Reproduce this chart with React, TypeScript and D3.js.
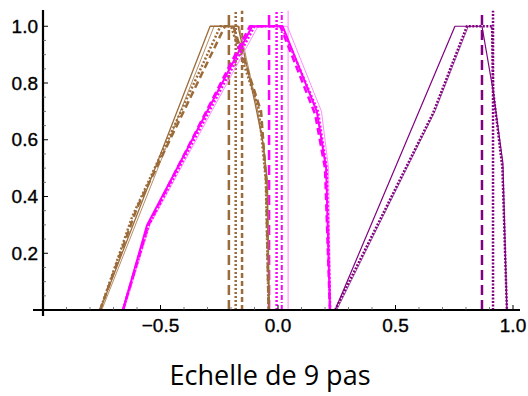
import React from "react";
import * as d3 from "d3";

// ---------- data ----------
type Pt = [number, number];

// Brown group (membership functions)
const brownSolidDark: Pt[] = [[-0.757, 0], [-0.289, 1], [-0.17, 1], [-0.098, 0.73], [-0.064, 0.59], [-0.047, 0.46], [-0.038, 0]];
const brownSolidLight: Pt[] = [[-0.75, 0], [-0.272, 1], [-0.165, 1], [-0.09, 0.72], [-0.06, 0.57], [-0.044, 0.45], [-0.036, 0]];
const brownDashed: Pt[] = [[-0.757, 0], [-0.6, 0.36], [-0.226, 1], [-0.19, 1], [-0.072, 0.70], [-0.05, 0.45], [-0.04, 0]];
const brownDotted: Pt[] = [[-0.757, 0], [-0.62, 0.33], [-0.245, 1], [-0.2, 1], [-0.082, 0.71], [-0.052, 0.46], [-0.04, 0]];
const brownVerticals: number[] = [-0.209, -0.18, -0.153];

// Magenta group
const magentaSolid: Pt[] = [[-0.66, 0], [-0.557, 0.3], [-0.11, 1], [0.02, 1], [0.165, 0.7], [0.205, 0.5], [0.221, 0]];
const magentaLight: Pt[] = [[-0.655, 0], [-0.545, 0.3], [-0.085, 1], [0.04, 1], [0.185, 0.7], [0.215, 0.5], [0.224, 0]];
const magentaDashed: Pt[] = [[-0.66, 0], [-0.552, 0.3], [-0.12, 1], [0.01, 1], [0.158, 0.69], [0.2, 0.5], [0.221, 0]];
const magentaDotted: Pt[] = [[-0.66, 0], [-0.55, 0.3], [-0.1, 1], [0.015, 1], [0.17, 0.7], [0.207, 0.5], [0.222, 0]];
const magentaVerticals: number[] = [-0.038, -0.006, 0.016, 0.043];

// Purple group
const purpleSolid: Pt[] = [[0.243, 0], [0.753, 1], [0.868, 1], [0.915, 0.775], [0.957, 0.518], [0.974, 0]];
const purpleLight: Pt[] = [[0.25, 0], [0.668, 0.7], [0.81, 1]];
const purpleDotted: Pt[] = [[0.243, 0], [0.66, 0.694], [0.804, 1], [0.911, 1], [0.915, 0.775], [0.955, 0.5], [0.974, 0]];
const purpleVerticals: number[] = [0.868, 0.915];

const xMajorTicks: number[] = [-0.5, 0, 0.5, 1.0];
const yMajorTicks: number[] = [0.2, 0.4, 0.6, 0.8, 1.0];
const title = "Echelle de 9 pas";

// ---------- styles ----------
const BROWN = "#9c6b3a";
const BROWN_L = "#b58e64";
const MAG = "#ff00ff";
const MAG_L = "#ff8cff";
const PUR = "#800080";
const PUR_L = "#a856a8";

export default function App() {
  const W = 528, H = 396;
  const x = d3.scaleLinear().domain([-1, 1]).range([43, 513]);
  const y = d3.scaleLinear().domain([0, 1]).range([310, 26.25]);
  const line = d3.line<Pt>().x(d => x(d[0])).y(d => y(d[1]));
  const fmt = d3.format(".1f");

  const xMinor = d3.range(-10, 11).map(i => i / 10).filter(v => !xMajorTicks.some(m => Math.abs(m - v) < 1e-9) && v > -1);
  const yMinor = d3.range(1, 21).map(i => i / 20).filter(v => !yMajorTicks.some(m => Math.abs(m - v) < 1e-9));

  const series: { d: Pt[]; stroke: string; w: number; dash?: string }[] = [
    { d: brownSolidLight, stroke: BROWN_L, w: 1 },
    { d: brownSolidDark, stroke: BROWN, w: 1.3 },
    { d: brownDotted, stroke: BROWN, w: 2.5, dash: "2,2" },
    { d: brownDashed, stroke: BROWN, w: 2.5, dash: "7,4" },
    { d: magentaLight, stroke: MAG_L, w: 1 },
    { d: magentaSolid, stroke: MAG, w: 2 },
    { d: magentaDotted, stroke: MAG, w: 2.5, dash: "2,2" },
    { d: magentaDashed, stroke: MAG, w: 2.5, dash: "7,4" },
    { d: purpleLight, stroke: PUR_L, w: 1 },
    { d: purpleSolid, stroke: PUR, w: 1.2 },
    { d: purpleDotted, stroke: PUR, w: 2.5, dash: "2,1.5" },
  ];

  const vStyles = [
    { stroke: BROWN, w: 2.5, dash: "10,5" },
    { stroke: BROWN, w: 2.5, dash: "2,2" },
    { stroke: BROWN, w: 2.5, dash: "5,3" },
  ];
  const mStyles = [
    { stroke: MAG, w: 2.5, dash: "10,5" },
    { stroke: MAG, w: 2.5, dash: "2,2" },
    { stroke: MAG, w: 2, dash: "5,2,1,2" },
    { stroke: MAG_L, w: 1, dash: undefined as string | undefined },
  ];
  const pStyles = [
    { stroke: PUR, w: 2.5, dash: "10,5" },
    { stroke: PUR, w: 2.5, dash: "2,1.5" },
  ];

  const verticals = [
    ...brownVerticals.map((v, i) => ({ v, ...vStyles[i] })),
    ...magentaVerticals.map((v, i) => ({ v, ...mStyles[i] })),
    ...purpleVerticals.map((v, i) => ({ v, ...pStyles[i] })),
  ];

  return (
    <svg width={W} height={H} style={{ position: "absolute", left: 0, top: 0, background: "#fff" }}
      fontFamily="'Liberation Sans', Arial, sans-serif">
      {/* vertical lines */}
      {verticals.map((s, i) => (
        <line key={"v" + i} x1={x(s.v)} x2={x(s.v)} y1={y(0)} y2={y(1.055)}
          stroke={s.stroke} strokeWidth={s.w} strokeDasharray={s.dash} />
      ))}
      {/* membership curves */}
      {series.map((s, i) => (
        <path key={"s" + i} d={line(s.d) || ""} fill="none" stroke={s.stroke}
          strokeWidth={s.w} strokeDasharray={s.dash} strokeLinejoin="round" />
      ))}
      {/* axes */}
      <line x1={33} x2={520} y1={y(0)} y2={y(0)} stroke="#000" strokeWidth={2.2} />
      <line x1={x(-1)} x2={x(-1)} y1={10} y2={316} stroke="#000" strokeWidth={2.2} />
      {xMajorTicks.map(t => (
        <g key={"xt" + t}>
          <line x1={x(t)} x2={x(t)} y1={y(0)} y2={y(0) - 5} stroke="#000" strokeWidth={1} />
          <text x={x(t)} y={325} textAnchor="middle" dominantBaseline="central" fontSize={19}
            stroke="#000" strokeWidth={0.35}>{fmt(t)}</text>
        </g>
      ))}
      {xMinor.map(t => (
        <line key={"xm" + t} x1={x(t)} x2={x(t)} y1={y(0)} y2={y(0) - 3} stroke="#555" strokeWidth={0.8} />
      ))}
      {yMajorTicks.map(t => (
        <g key={"yt" + t}>
          <line x1={x(-1)} x2={x(-1) + 5} y1={y(t)} y2={y(t)} stroke="#000" strokeWidth={1} />
          <text x={38} y={y(t)} textAnchor="end" dominantBaseline="central" fontSize={19}
            stroke="#000" strokeWidth={0.35}>{fmt(t)}</text>
        </g>
      ))}
      {yMinor.map(t => (
        <line key={"ym" + t} x1={x(-1)} x2={x(-1) + 3} y1={y(t)} y2={y(t)} stroke="#555" strokeWidth={0.8} />
      ))}
      <text x={270} y={385} textAnchor="middle" fontSize={27} fontFamily="'Open Sans', 'Noto Sans', sans-serif">{title}</text>
    </svg>
  );
}
